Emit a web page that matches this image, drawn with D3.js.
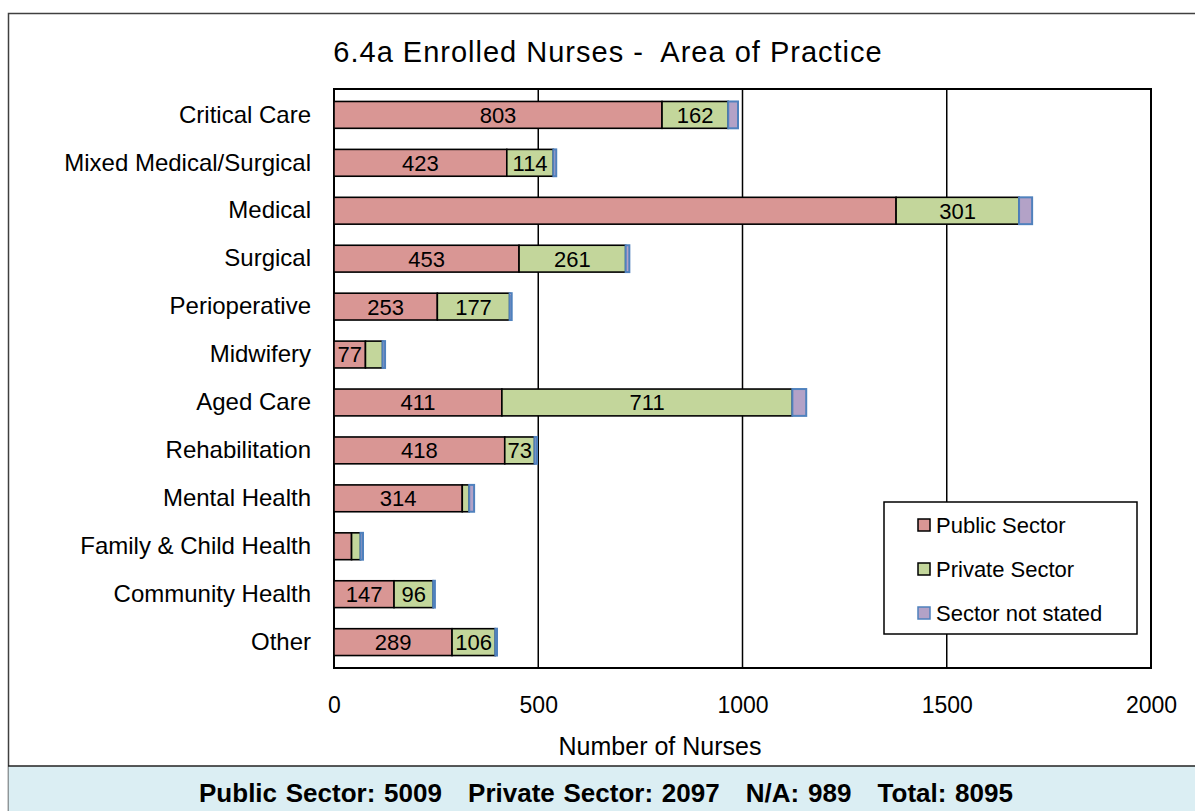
<!DOCTYPE html>
<html>
<head>
<meta charset="utf-8">
<script src="https://cdn.jsdelivr.net/npm/d3@7"></script>
<style>
  body { margin: 0; background: #fff; }
  svg { display: block; font-family: "Liberation Sans", Arial, sans-serif; }
</style>
</head>
<body>
<div id="chart"></div>
<script>
// values
const areas = ['Critical Care', 'Mixed Medical/Surgical', 'Medical', 'Surgical', 'Perioperative',
  'Midwifery', 'Aged Care', 'Rehabilitation', 'Mental Health', 'Family & Child Health',
  'Community Health', 'Other'];
const publicSector  = [803, 423, 1376, 453, 253, 77, 411, 418, 314, 43, 147, 289];
const privateSector = [162, 114, 301, 261, 177, 42, 711, 73, 17, 22, 96, 106];
const notStated     = [24, 7, 32, 9, 5, 6, 34, 6, 12, 6, 4, 4];
const seriesNames = ['Public Sector', 'Private Sector', 'Sector not stated'];
const xTicks = [0, 500, 1000, 1500, 2000];
const unlabelledPublic = ['Medical'];
const footerText = 'Public Sector: 5009   Private Sector: 2097   N/A: 989   Total: 8095';

const W = 1195, H = 811;
const plot = { left: 334, top: 89, right: 1151, bottom: 668 };

const svg = d3.select('#chart').append('svg')
  .attr('width', W)
  .attr('height', H);

// outer frame
svg.append('rect')
  .attr('x', 8.5).attr('y', 13.5)
  .attr('width', W + 10).attr('height', H)
  .attr('fill', '#fff')
  .attr('stroke', '#404040')
  .attr('stroke-width', 1.5);

// footer band
svg.append('rect')
  .attr('x', 8.5).attr('y', 766)
  .attr('width', W).attr('height', 50)
  .attr('fill', '#dbeef3');
svg.append('line')
  .attr('x1', 8).attr('x2', W).attr('y1', 766).attr('y2', 766)
  .attr('stroke', '#222').attr('stroke-width', 1.5);
svg.append('text')
  .attr('x', 606).attr('y', 802)
  .attr('text-anchor', 'middle')
  .attr('font-size', '26px')
  .attr('font-weight', 'bold')
  .style('word-spacing', '1.5px')
  .style('white-space', 'pre')
  .text(footerText);

// title
svg.append('text')
  .attr('x', 608).attr('y', 62)
  .attr('text-anchor', 'middle')
  .attr('font-size', '29px')
  .style('letter-spacing', '1px')
  .style('white-space', 'pre')
  .text('6.4a Enrolled Nurses -  Area of Practice');

const xScale = d3.scaleLinear().domain([0, 2000]).range([plot.left, plot.right]);
const yScale = d3.scaleBand().domain(areas).range([plot.top, plot.bottom]).paddingInner(0.44).paddingOuter(0.26);

// gridlines
svg.append('g')
  .selectAll('line')
  .data(xTicks.slice(1, -1))
  .enter().append('line')
  .attr('x1', d => xScale(d)).attr('x2', d => xScale(d))
  .attr('y1', plot.top).attr('y2', plot.bottom)
  .attr('stroke', '#000').attr('stroke-width', 1.5);

// plot frame
svg.append('rect')
  .attr('x', plot.left).attr('y', plot.top)
  .attr('width', plot.right - plot.left).attr('height', plot.bottom - plot.top)
  .attr('fill', 'none')
  .attr('stroke', '#000').attr('stroke-width', 2);

// x axis labels
const xAxis = svg.append('g')
  .attr('transform', `translate(0, ${plot.bottom + 29})`)
  .call(d3.axisBottom(xScale).tickValues(xTicks).tickFormat(d3.format('d')).tickSize(0).tickPadding(0));
xAxis.select('.domain').remove();
xAxis.selectAll('text')
  .attr('font-family', '"Liberation Sans", Arial, sans-serif')
  .attr('font-size', '23px')
  .attr('fill', '#000')
  .attr('dy', '0.71em');

svg.append('text')
  .attr('x', 660).attr('y', 755)
  .attr('text-anchor', 'middle')
  .attr('font-size', '25px')
  .text('Number of Nurses');

// category labels
const yAxis = svg.append('g')
  .attr('transform', `translate(${plot.left - 23}, 0)`)
  .call(d3.axisLeft(yScale).tickSize(0).tickPadding(0));
yAxis.select('.domain').remove();
yAxis.selectAll('text')
  .attr('font-family', '"Liberation Sans", Arial, sans-serif')
  .attr('font-size', '24px')
  .attr('fill', '#000');

// stacked bars
const rows = areas.map((a, i) => ({ area: a, pub: publicSector[i], priv: privateSector[i], ns: notStated[i] }));
const stack = d3.stack().keys(['pub', 'priv', 'ns'])(rows);
const fills = ['#d99694', '#c3d69b', '#b3a2c7'];
const strokes = ['#000', '#000', '#4f81bd'];

const layers = svg.append('g')
  .selectAll('g')
  .data(stack)
  .enter().append('g')
  .attr('fill', (d, i) => fills[i])
  .attr('stroke', (d, i) => strokes[i])
  .attr('stroke-width', (d, i) => i === 2 ? 2 : 1.6);

layers.selectAll('rect')
  .data(d => d)
  .enter().append('rect')
  .attr('x', d => xScale(d[0]))
  .attr('y', d => yScale(d.data.area))
  .attr('width', d => xScale(d[1]) - xScale(d[0]))
  .attr('height', yScale.bandwidth());

// segment value labels
const labelData = [];
stack.slice(0, 2).forEach((layer, li) => {
  layer.forEach(d => {
    const v = d[1] - d[0];
    if (v < 70) return;
    if (li === 0 && unlabelledPublic.includes(d.data.area)) return;
    labelData.push({ v: v, x: (xScale(d[0]) + xScale(d[1])) / 2, area: d.data.area });
  });
});
svg.append('g')
  .selectAll('text')
  .data(labelData)
  .enter().append('text')
  .attr('x', d => d.x)
  .attr('y', d => yScale(d.area) + yScale.bandwidth() / 2)
  .attr('dy', '0.36em')
  .attr('text-anchor', 'middle')
  .attr('font-size', '22px')
  .text(d => d.v);

// legend
const legend = svg.append('g').attr('transform', 'translate(884, 502)');
legend.append('rect')
  .attr('width', 253).attr('height', 132)
  .attr('fill', '#fff')
  .attr('stroke', '#000').attr('stroke-width', 1.5);
const items = legend.selectAll('g.item')
  .data(seriesNames)
  .enter().append('g')
  .attr('class', 'item')
  .attr('transform', (d, i) => `translate(0, ${23 + i * 44})`);
items.append('rect')
  .attr('x', 34).attr('y', -6)
  .attr('width', 12).attr('height', 12)
  .attr('fill', (d, i) => fills[i])
  .attr('stroke', (d, i) => strokes[i])
  .attr('stroke-width', 1.5);
items.append('text')
  .attr('x', 52).attr('dy', '0.36em')
  .attr('font-size', '22px')
  .text(d => d);
</script>
</body>
</html>
